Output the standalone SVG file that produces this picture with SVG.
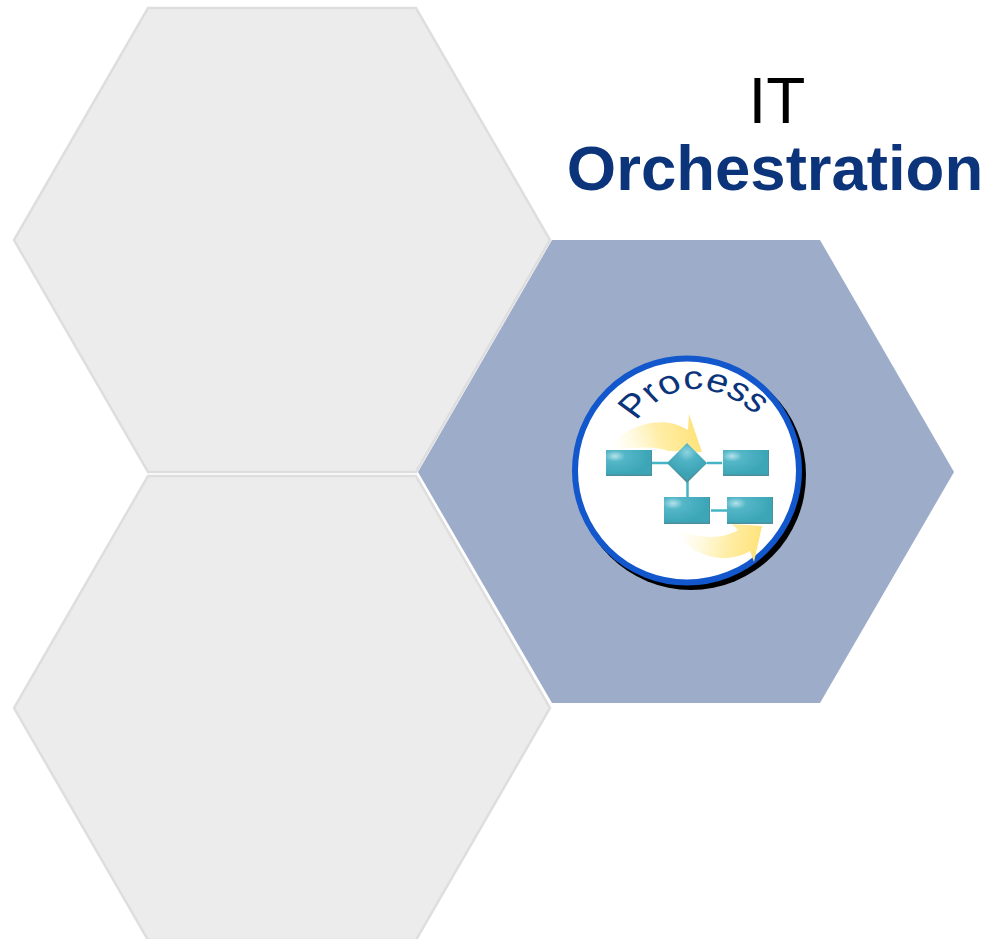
<svg xmlns="http://www.w3.org/2000/svg" width="990" height="939" viewBox="0 0 990 939">
<style>
.hex{fill:#ececec;stroke:#dedede;stroke-width:2.5}
.link{stroke:#45b5c6;stroke-width:2.5;fill:none}
text{font-family:"Liberation Sans",Arial,sans-serif}
</style>
<defs>
<linearGradient id="a1" gradientUnits="userSpaceOnUse" x1="615" y1="450" x2="695" y2="425"><stop offset="0" stop-color="#fff6c8" stop-opacity="0"/><stop offset="0.55" stop-color="#ffeea8"/><stop offset="1" stop-color="#ffe27a"/></linearGradient>
<linearGradient id="a2" gradientUnits="userSpaceOnUse" x1="680" y1="530" x2="760" y2="545"><stop offset="0" stop-color="#fff6c8" stop-opacity="0"/><stop offset="0.6" stop-color="#ffeea8"/><stop offset="1" stop-color="#ffe27a"/></linearGradient>
<radialGradient id="shine" cx="0.2" cy="0.25" r="0.75"><stop offset="0" stop-color="#b4e2ea"/><stop offset="0.3" stop-color="#54b7c8"/><stop offset="1" stop-color="#3ca6b7"/></radialGradient>
<radialGradient id="shineD" cx="0.5" cy="0.25" r="0.6"><stop offset="0" stop-color="#8fd3df"/><stop offset="0.4" stop-color="#4fb3c4"/><stop offset="1" stop-color="#3ca3b4"/></radialGradient>
<g id="box"><rect width="46" height="26" fill="#4d8f9c"/><rect width="45" height="24.500" fill="url(#shine)"/></g>
<g id="box2"><rect width="46" height="27" fill="#4d8f9c"/><rect width="45" height="25.500" fill="url(#shine)"/></g>
<path id="arcText" d="M530 421 Q575 359 632 417"/>
</defs>
<g id="hex-top"><polygon class="hex" points="148,8 416,8 550,240 416,472 148,472 14,240"/></g>
<g id="hex-bottom"><polygon class="hex" points="148,476 416,476 550,708 416,940 148,940 14,708"/></g>
<g id="hex-blue"><polygon fill="#9cacc9" points="552,240 820,240 954,472 820,703 552,703 418,472"/></g>
<g id="title">
<text x="777" y="123" font-size="64" text-anchor="middle" fill="#000">IT</text>
<text x="775" y="190" font-size="63.500" font-weight="700" text-anchor="middle" fill="#0b347a">Orchestration</text>
</g>
<g id="process-icon">
<circle cx="691" cy="475" r="115" fill="#000"/>
<circle cx="687" cy="470.500" r="112" fill="#fff" stroke="#1257cc" stroke-width="6"/>
<path fill="url(#a1)" d="M610 450C620 428 660 412 688 430L689 414L702 452L668 451C660 447 640 446 610 450Z"/>
<path fill="url(#a2)" d="M677 531C690 556 725 566 750 551L754 562L762 526L732 524L738 530C722 540 700 538 677 531Z"/>
<g transform="scale(1.2 1)"><text font-size="33" fill="#0b347a"><textPath href="#arcText">Process</textPath></text></g>
<g class="flow">
<path class="link" d="M652 463H668M707 463H722M687.500 480V498M711 510.500H727"/>
<use href="#box" x="606" y="450"/>
<use href="#box" x="723" y="450"/>
<use href="#box2" x="664" y="497"/>
<use href="#box2" x="727" y="497"/>
<polygon fill="#4d8f9c" points="667,463 687,483 707,463"/>
<polygon fill="url(#shineD)" points="687,443 707,463 687,480 667,463"/>
</g>
</g>
</svg>
